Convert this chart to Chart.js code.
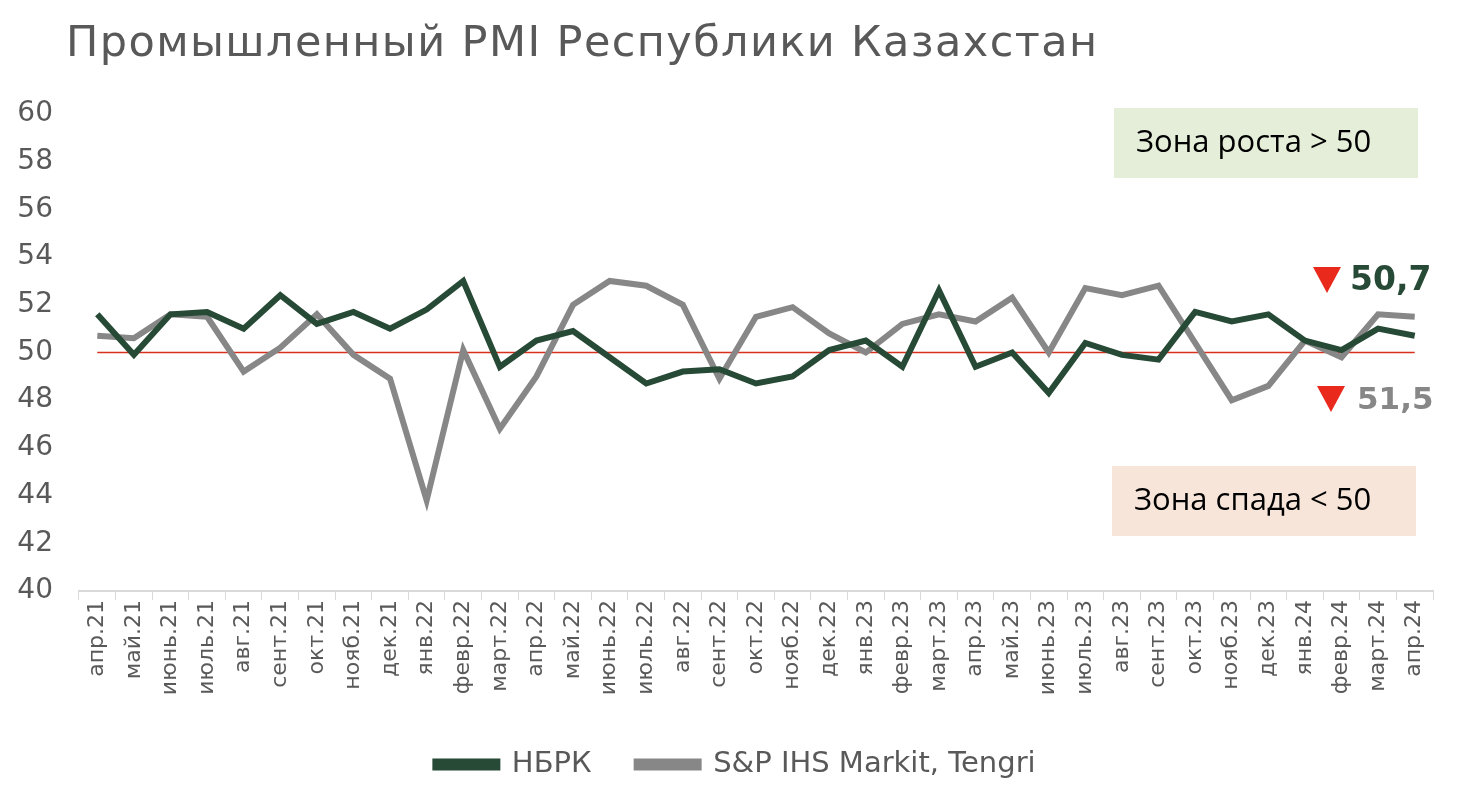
<!DOCTYPE html>
<html>
<head>
<meta charset="utf-8">
<script src="https://cdn.jsdelivr.net/npm/chart.js@4"></script>
<style>
  html, body { margin: 0; padding: 0; background: #fff; }
  #wrap { width: 1460px; height: 793px; }
</style>
</head>
<body>
<div id="wrap"><canvas id="pmiChart"></canvas></div>
<script>
var months = ['апр.21', 'май.21', 'июнь.21', 'июль.21', 'авг.21', 'сент.21', 'окт.21', 'нояб.21', 'дек.21',
    'янв.22', 'февр.22', 'март.22', 'апр.22', 'май.22', 'июнь.22', 'июль.22', 'авг.22', 'сент.22', 'окт.22', 'нояб.22', 'дек.22',
    'янв.23', 'февр.23', 'март.23', 'апр.23', 'май.23', 'июнь.23', 'июль.23', 'авг.23', 'сент.23', 'окт.23', 'нояб.23', 'дек.23',
    'янв.24', 'февр.24', 'март.24', 'апр.24'];

var nbrk = [51.6, 49.9, 51.6, 51.7, 51.0, 52.4, 51.2, 51.7, 51.0,
    51.8, 53.0, 49.4, 50.5, 50.9, 49.8, 48.7, 49.2, 49.3, 48.7, 49.0, 50.1,
    50.5, 49.4, 52.6, 49.4, 50.0, 48.3, 50.4, 49.9, 49.7, 51.7, 51.3, 51.6,
    50.5, 50.1, 51.0, 50.7];

var spMarkit = [50.7, 50.6, 51.6, 51.5, 49.2, 50.2, 51.6, 49.9, 48.9,
    43.8, 50.1, 46.8, 49.0, 52.0, 53.0, 52.8, 52.0, 48.9, 51.5, 51.9, 50.8,
    50.0, 51.2, 51.6, 51.3, 52.3, 50.0, 52.7, 52.4, 52.8, 50.4, 48.0, 48.6,
    50.5, 49.8, 51.6, 51.5];

var seriesNames = ['НБРК', 'S&P IHS Markit, Tengri'];
var chartTitle = 'Промышленный PMI Республики Казахстан';
var threshold = 50;
var yMin = 40, yMax = 60, yStep = 2;
var lastNbrk = '50,7', lastSp = '51,5';

var green = '#274a36';
var grey = '#878787';
var textGrey = '#595959';
var fontMain = '"DejaVu Sans", "Noto Sans", sans-serif';
var fontBox = '"Open Sans", "Noto Sans", sans-serif';

// title, threshold line, zone boxes, last value markers
var extras = {
    id: 'extras',
    afterLayout: function (chart) {
        // legend sits a bit right of the canvas centre in the original
        chart.legend.left += 14;
        chart.legend.right += 14;
    },
    beforeDatasetsDraw: function (chart) {
        var ctx = chart.ctx, x = chart.scales.x, y = chart.scales.y;
        var yy = y.getPixelForValue(threshold);
        ctx.save();
        ctx.strokeStyle = '#d7301f';
        ctx.lineWidth = 1.5;
        ctx.beginPath();
        ctx.moveTo(x.getPixelForValue(0), yy);
        ctx.lineTo(x.getPixelForValue(months.length - 1), yy);
        ctx.stroke();
        ctx.restore();
    },
    afterDraw: function (chart) {
        var ctx = chart.ctx;
        ctx.save();
        // title
        ctx.fillStyle = textGrey;
        ctx.font = '43px ' + fontMain;
        ctx.textBaseline = 'alphabetic';
        var w = ctx.measureText(chartTitle).width;
        ctx.letterSpacing = ((1031 - w) / (chartTitle.length - 1)) + 'px';
        ctx.fillText(chartTitle, 66, 56);
        ctx.letterSpacing = '0px';

        // zone boxes
        ctx.fillStyle = '#e4eed9';
        ctx.fillRect(1114, 108, 304, 70);
        ctx.fillStyle = '#f6e5d8';
        ctx.fillRect(1112, 466, 304, 70);
        ctx.fillStyle = '#000';
        ctx.font = '31px ' + fontBox;
        ctx.textBaseline = 'middle';
        ctx.fillText('Зона роста > 50', 1136, 143);
        ctx.fillText('Зона спада < 50', 1134, 501);

        // last values
        function tri(cx, top, w, h) {
            ctx.fillStyle = '#e8291c';
            ctx.beginPath();
            ctx.moveTo(cx - w / 2, top);
            ctx.lineTo(cx + w / 2, top);
            ctx.lineTo(cx, top + h);
            ctx.closePath();
            ctx.fill();
        }
        tri(1327, 267, 28, 26);
        tri(1331, 386, 28, 26);
        ctx.font = 'bold 33px ' + fontMain;
        ctx.fillStyle = green;
        ctx.fillText(lastNbrk, 1350, 281);
        ctx.font = 'bold 31px ' + fontMain;
        ctx.fillStyle = grey;
        ctx.fillText(lastSp, 1357, 401);
        ctx.restore();
    }
};

var ctx = document.getElementById('pmiChart').getContext('2d');
var pmiChart = new Chart(ctx, {
    type: 'line',
    data: {
        labels: months,
        datasets: [{
            label: seriesNames[0],
            data: nbrk,
            borderColor: green,
            backgroundColor: green,
            borderWidth: 6,
            pointRadius: 0,
            tension: 0
        }, {
            label: seriesNames[1],
            data: spMarkit,
            borderColor: grey,
            backgroundColor: grey,
            borderWidth: 6,
            pointRadius: 0,
            tension: 0
        }]
    },
    options: {
        responsive: true,
        maintainAspectRatio: false,
        animation: false,
        layout: { padding: { left: 10, right: 27, top: 114, bottom: 4 } },
        plugins: {
            legend: {
                position: 'bottom',
                labels: {
                    color: textGrey,
                    font: { family: fontMain, size: 29 },
                    boxWidth: 62,
                    boxHeight: 6,
                    padding: 45
                }
            },
            tooltip: { enabled: false }
        },
        scales: {
            x: {
                offset: true,
                grid: { offset: true, drawOnChartArea: false, color: '#d9d9d9', tickLength: 9 },
                border: { color: '#d9d9d9', width: 2 },
                ticks: {
                    color: textGrey,
                    font: { family: fontMain, size: 22 },
                    minRotation: 90,
                    maxRotation: 90,
                    autoSkip: false,
                    padding: 0
                },
                afterFit: function (scale) { scale.height = 114; }
            },
            y: {
                min: yMin,
                max: yMax,
                grid: { display: false, drawTicks: false },
                border: { display: false },
                ticks: {
                    stepSize: yStep,
                    color: textGrey,
                    font: { family: fontMain, size: 28 },
                    padding: 26
                },
                afterFit: function (scale) { scale.width = 69; }
            }
        }
    },
    plugins: [extras]
});
</script>
</body>
</html>
